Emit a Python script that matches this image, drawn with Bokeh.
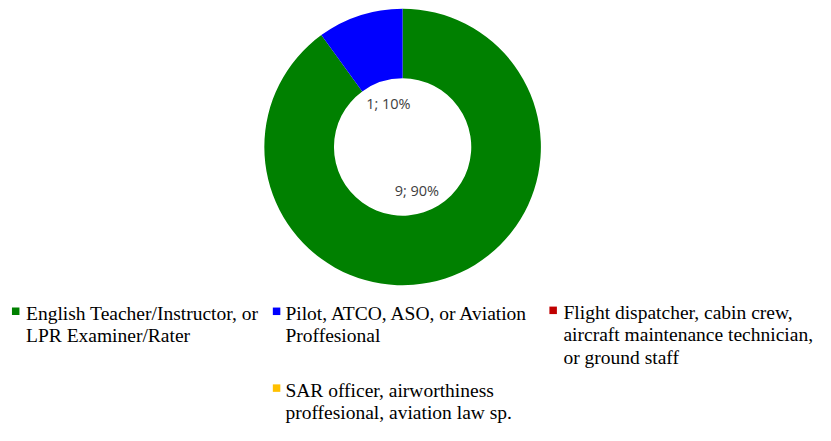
import math
from bokeh.plotting import figure
from bokeh.models import Range1d, ColumnDataSource
from bokeh.core.properties import value
from bokeh.embed import file_html
from bokeh.resources import INLINE

# ---- data ----
categories = [
    "English Teacher/Instructor, or\nLPR Examiner/Rater",
    "Pilot, ATCO, ASO, or Aviation\nProffesional",
    "Flight dispatcher, cabin crew,\naircraft maintenance technician,\nor ground staff",
    "SAR officer, airworthiness\nproffesional, aviation law sp.",
]
counts = [9, 1, 0, 0]
colors = ["#008000", "#0000FF", "#C00000", "#FFC000"]

# ---- layout constants (reference-image data units) ----
W, H = 815, 425
REF_W, REF_H = 831, 441
CX, CY = 410, -152
R_OUT, R_IN = 141, 70
R_LABEL = 47
TEXT_SHIFT = 6  # compensate baseline offset of rendered text

p = figure(width=W, height=H, output_backend="svg", toolbar_location=None,
           x_range=Range1d(0, REF_W), y_range=Range1d(-REF_H, 0),
           x_axis_type=None, y_axis_type=None, min_border=0)
p.grid.visible = False
p.outline_line_color = None
p.background_fill_color = "white"
p.border_fill_color = "white"

total = sum(counts)
starts, ends, lx, ly, ltxt, wcol = [], [], [], [], [], []
cum = 0.0
for c, col in zip(counts, colors):
    f = c / total
    if f > 0:
        s = math.pi / 2 - 2 * math.pi * (cum + f)
        e = math.pi / 2 - 2 * math.pi * cum
        starts.append(s)
        ends.append(e)
        wcol.append(col)
        mid = (s + e) / 2
        lx.append(CX + R_LABEL * math.cos(mid))
        ly.append(CY + R_LABEL * math.sin(mid))
        ltxt.append(f"{c}; {round(f * 100)}%")
    cum += f

src = ColumnDataSource(dict(start=starts, end=ends, color=wcol))
p.annular_wedge(x=CX, y=CY, inner_radius=R_IN, outer_radius=R_OUT,
                start_angle="start", end_angle="end", fill_color="color",
                line_color=None, source=src)

p.text(x=lx, y=ly, text=ltxt, text_font=value("Open Sans"),
       text_font_size="14.5px", text_color="#404040",
       text_align="center", text_baseline="middle")

# ---- legend (manual) ----
marker_x = [15.5, 281.5, 563.5, 281.5]
text_x = [26, 290.5, 574, 290.5]
first_base = [331, 331, 330, 410.7]
line_step = 23

mx, my, mc = [], [], []
tx, ty, tt = [], [], []
for i, lab in enumerate(categories):
    mx.append(marker_x[i])
    my.append(-(first_base[i] - 8.5))
    mc.append(colors[i])
    for j, line in enumerate(lab.split("\n")):
        tx.append(text_x[i])
        ty.append(-(first_base[i] + j * line_step) + TEXT_SHIFT)
        tt.append(line)

p.scatter(x=mx, y=my, marker="square", size=7.5, fill_color=mc, line_color=None)
p.text(x=tx, y=ty, text=tt, text_font=value("Liberation Serif"),
       text_font_size="19.5px", text_color="#000000",
       text_align="left", text_baseline="alphabetic")

open("out.html", "w").write(file_html(p, INLINE))
